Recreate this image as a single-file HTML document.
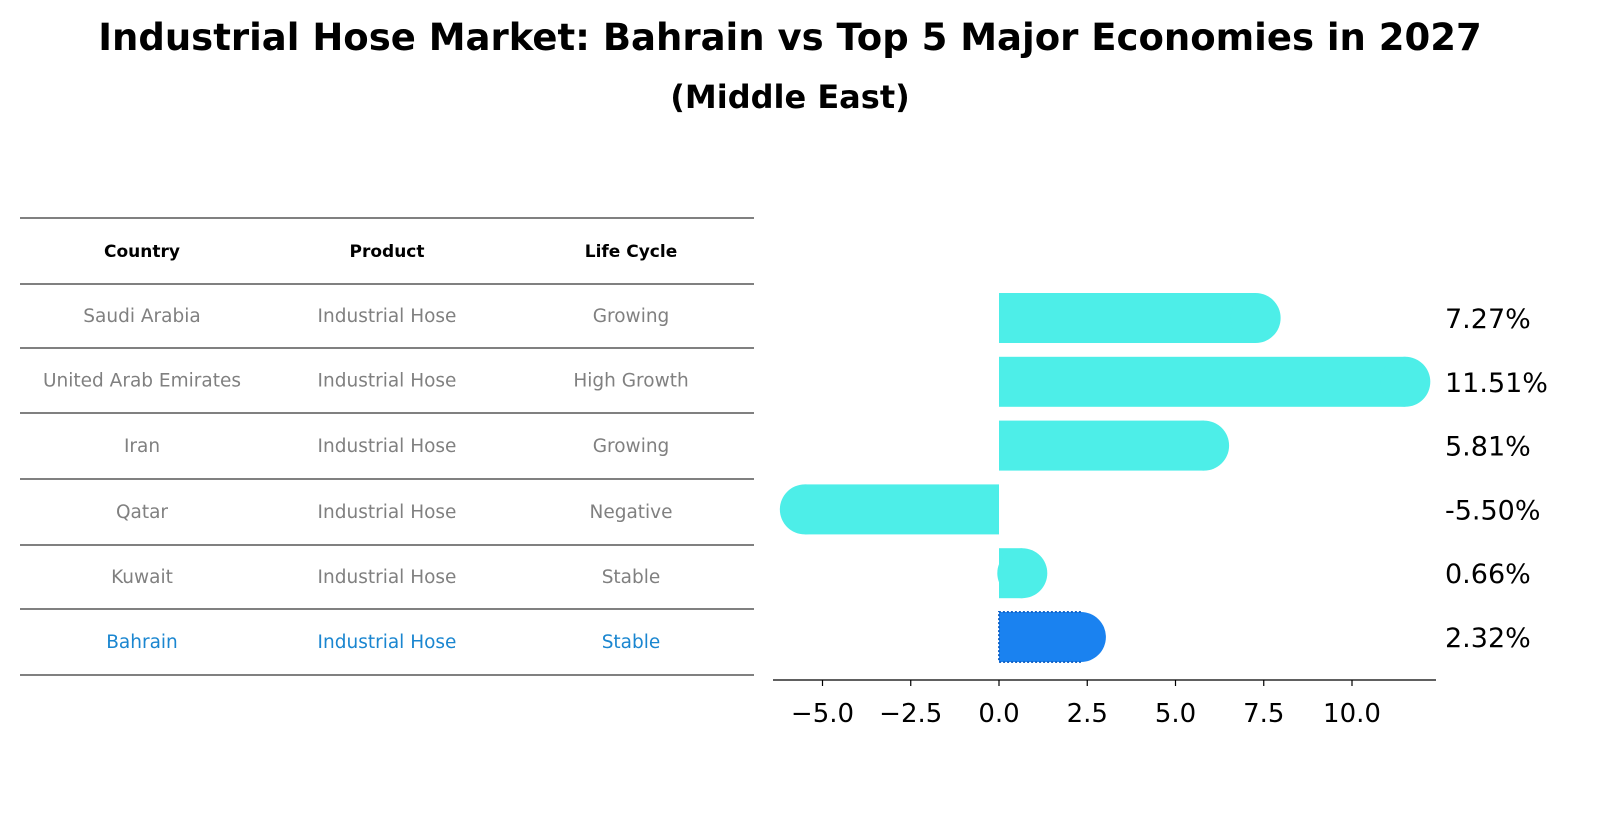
<!DOCTYPE html>
<html><head><meta charset="utf-8"><style>
body{margin:0;background:#fff;font-family:"Liberation Sans","DejaVu Sans",sans-serif}
#wrap{position:relative;width:1604px;height:823px;overflow:hidden}
</style></head><body>
<div id="wrap">
<svg id="svg" width="1604" height="823" font-family="DejaVu Sans, Liberation Sans, sans-serif">
<text x="790" y="50" text-anchor="middle" font-size="37" font-weight="bold">Industrial Hose Market: Bahrain vs Top 5 Major Economies in 2027</text>
<text x="790" y="108" text-anchor="middle" font-size="32" font-weight="bold">(Middle East)</text>
<g id="table"></g>
<g id="bars"></g>
</svg>
</div>
<script>
const countries=["Saudi Arabia","United Arab Emirates","Iran","Qatar","Kuwait","Bahrain"];
const products=["Industrial Hose","Industrial Hose","Industrial Hose","Industrial Hose","Industrial Hose","Industrial Hose"];
const lifeCycles=["Growing","High Growth","Growing","Negative","Stable","Stable"];
const values=[7.27,11.51,5.81,-5.50,0.66,2.32];
const tickValues=[-5,-2.5,0,2.5,5,7.5,10];
const tickLabels=["\u22125.0","\u22122.5","0.0","2.5","5.0","7.5","10.0"];
const NS="http://www.w3.org/2000/svg";
function mk(tag,attrs,parent){const e=document.createElementNS(NS,tag);for(const k in attrs)e.setAttribute(k,attrs[k]);parent.appendChild(e);return e;}
const tg=document.getElementById('table');
const lineYs=[218,284,348,413,479,545,609,675];
lineYs.forEach((y,i)=>{const l=mk('line',{x1:20,x2:754,y1:y,y2:y,stroke:'#000','stroke-width':1},tg);
});
const colX=[142,387,631];
const headers=["Country","Product","Life Cycle"];
headers.forEach((h,i)=>{const t=mk('text',{x:colX[i],y:257,'text-anchor':'middle','font-size':17,'font-weight':'bold'},tg);t.textContent=h;
});
countries.forEach((c,r)=>{const y=(lineYs[r+1]+lineYs[r+2])/2+6;const col=r===5?'#1a86d0':'#808080';
[c,products[r],lifeCycles[r]].forEach((v,i)=>{const t=mk('text',{x:colX[i],y:y,'text-anchor':'middle','font-size':18.5,fill:col},tg);t.textContent=v;
});});
const bg=document.getElementById('bars');
const x0=999,pxPer=35.3;
const xs=v=>x0+v*pxPer;
const rowY=i=>318+i*63.8;
const h=50,rad=25;
values.forEach((v,i)=>{const cy=rowY(i);const end=xs(v);const col=i===5?'#1a82f0':'#4deee8';
const g=mk('g',{},bg);
const xl=Math.min(x0,end),w=Math.abs(end-x0);
mk('rect',{x:xl,y:cy-h/2,width:w,height:h,fill:col},g);
mk('circle',{cx:end,cy:cy,r:rad,fill:col},g);
if(i===5){mk('path',{d:`M${end},${cy-h/2} H${xl} V${cy+h/2} H${end}`,fill:'none',stroke:'#1565c8','stroke-width':2,'stroke-dasharray':'2,2'},g);}
const t=mk('text',{x:1445,y:cy+10,'font-size':27},bg);t.textContent=v.toFixed(2)+'%';
});
const ax=mk('line',{x1:773,x2:1436,y1:680,y2:680,stroke:'#000','stroke-width':1.3},bg);

tickValues.forEach((v,i)=>{const x=xs(v);const tk=mk('line',{x1:x,x2:x,y1:680,y2:686,stroke:'#000','stroke-width':1.2},bg);

const t=mk('text',{x:x,y:722,'text-anchor':'middle','font-size':26},bg);t.textContent=tickLabels[i];
});
</script>
</body></html>
